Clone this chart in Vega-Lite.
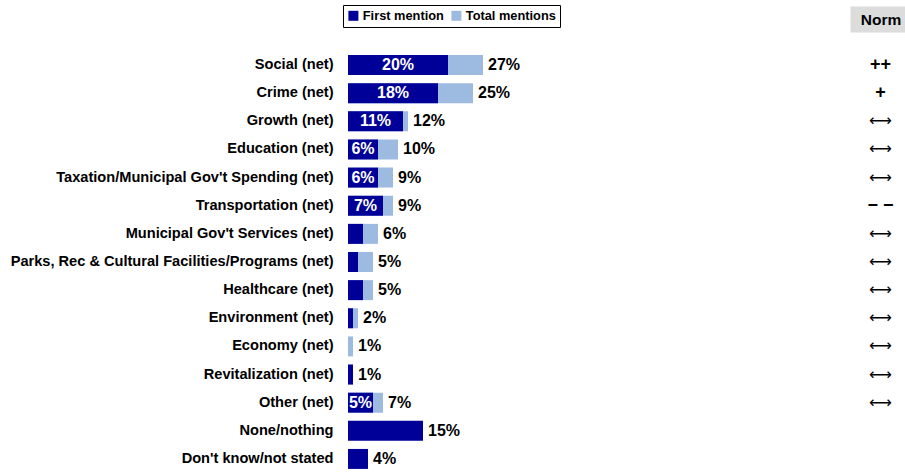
{
  "$schema": "https://vega.github.io/schema/vega-lite/v6.json",
  "autosize": {"type": "pad"},
  "padding": {"left": 10, "top": 4, "right": 0, "bottom": 0},
  "background": "white",
  "config": {
    "view": {"stroke": null},
    "font": "Liberation Sans",
    "concat": {"spacing": 2}
  },
  "data": {
    "values": [
      {"cat": "Social (net)", "first": 20, "total": 27, "norm": "++"},
      {"cat": "Crime (net)", "first": 18, "total": 25, "norm": "+"},
      {"cat": "Growth (net)", "first": 11, "total": 12, "norm": "⟷"},
      {"cat": "Education (net)", "first": 6, "total": 10, "norm": "⟷"},
      {"cat": "Taxation/Municipal Gov't Spending (net)", "first": 6, "total": 9, "norm": "⟷"},
      {"cat": "Transportation (net)", "first": 7, "total": 9, "norm": "− −"},
      {"cat": "Municipal Gov't Services (net)", "first": 3, "total": 6, "norm": "⟷"},
      {"cat": "Parks, Rec & Cultural Facilities/Programs (net)", "first": 2, "total": 5, "norm": "⟷"},
      {"cat": "Healthcare (net)", "first": 3, "total": 5, "norm": "⟷"},
      {"cat": "Environment (net)", "first": 1, "total": 2, "norm": "⟷"},
      {"cat": "Economy (net)", "first": 0, "total": 1, "norm": "⟷"},
      {"cat": "Revitalization (net)", "first": 1, "total": 1, "norm": "⟷"},
      {"cat": "Other (net)", "first": 5, "total": 7, "norm": "⟷"},
      {"cat": "None/nothing", "first": 15, "total": null, "norm": null},
      {"cat": "Don't know/not stated", "first": 4, "total": null, "norm": null}
    ]
  },
  "hconcat": [
    {
      "width": 500,
      "height": 422,
      "encoding": {
        "y": {
          "field": "cat",
          "type": "nominal",
          "sort": null,
          "scale": {"paddingInner": 0.29, "paddingOuter": 0.145},
          "axis": {
            "title": null,
            "domain": false,
            "ticks": false,
            "tickSize": 0,
            "labelPadding": 15,
            "labelFont": "Liberation Sans",
            "labelFontWeight": "bold",
            "labelFontSize": 14.6,
            "labelColor": "black",
            "labelLimit": 400
          }
        }
      },
      "layer": [
        {
          "transform": [
            {"filter": "datum.total != null"},
            {"calculate": "'Total mentions'", "as": "series"}
          ],
          "mark": {"type": "bar"},
          "encoding": {
            "x": {
              "field": "total",
              "type": "quantitative",
              "scale": {"domain": [0, 100]},
              "axis": null
            },
            "color": {
              "field": "series",
              "type": "nominal",
              "scale": {
                "domain": ["First mention", "Total mentions"],
                "range": ["#000099", "#9DBAE0"]
              },
              "legend": {
                "title": null,
                "orient": "none",
                "direction": "horizontal",
                "legendX": -5,
                "legendY": -46,
                "symbolType": "square",
                "symbolSize": 100,
                "symbolStrokeWidth": 0,
                "labelFont": "Liberation Sans",
                "labelFontWeight": "bold",
                "labelFontSize": 12.8,
                "labelColor": "black",
                "columnPadding": 6,
                "symbolOffset": 0,
                "labelOffset": 3,
                "strokeColor": "black",
                "padding": 4
              }
            }
          }
        },
        {
          "transform": [{"calculate": "'First mention'", "as": "series"}],
          "mark": {"type": "bar"},
          "encoding": {
            "x": {"field": "first", "type": "quantitative"},
            "color": {"field": "series", "type": "nominal"}
          }
        },
        {
          "transform": [
            {"filter": "datum.total != null && datum.first >= 5"},
            {"calculate": "format(datum.first, '.0f') + '%'", "as": "innerLabel"},
            {"calculate": "datum.first / 2", "as": "mid"}
          ],
          "mark": {
            "type": "text",
            "color": "white",
            "fontWeight": "bold",
            "fontSize": 16,
            "align": "center",
            "baseline": "middle"
          },
          "encoding": {
            "x": {"field": "mid", "type": "quantitative"},
            "text": {"field": "innerLabel", "type": "nominal"}
          }
        },
        {
          "transform": [
            {"calculate": "datum.total != null ? datum.total : datum.first", "as": "outer"},
            {"calculate": "format(datum.outer, '.0f') + '%'", "as": "outerLabel"}
          ],
          "mark": {
            "type": "text",
            "color": "black",
            "fontWeight": "bold",
            "fontSize": 16,
            "align": "left",
            "baseline": "middle",
            "dx": 5
          },
          "encoding": {
            "x": {"field": "outer", "type": "quantitative"},
            "text": {"field": "outerLabel", "type": "nominal"}
          }
        }
      ]
    },
    {
      "width": 55,
      "height": 422,
      "transform": [
        {"filter": "datum.norm != null"},
        {"calculate": "'Norm'", "as": "col"}
      ],
      "layer": [
        {
          "transform": [{"filter": "datum.norm != '⟷'"}],
          "mark": {
            "type": "text",
            "color": "black",
            "fontWeight": "bold",
            "fontSize": 18,
            "baseline": "middle",
            "dx": 3
          },
          "encoding": {
            "text": {"field": "norm", "type": "nominal"}
          }
        },
        {
          "transform": [{"filter": "datum.norm == '⟷'"}],
          "mark": {
            "type": "text",
            "color": "black",
            "font": "DejaVu Sans",
            "fontSize": 16,
            "baseline": "middle",
            "dx": 3
          },
          "encoding": {
            "text": {"field": "norm", "type": "nominal"}
          }
        }
      ],
      "encoding": {
        "x": {
          "field": "col",
          "type": "nominal",
          "axis": {
            "orient": "top",
            "title": "Norm",
            "titleFontWeight": "bold",
            "titleFontSize": 15.5,
            "titleColor": "black",
            "titleBaseline": "middle",
            "titleAnchor": "middle",
            "titleX": 30.5,
            "titleY": 0,
            "labels": false,
            "ticks": false,
            "tickSize": 0,
            "domain": true,
            "domainColor": "#DCDCDC",
            "domainWidth": 26,
            "offset": 32
          }
        },
        "y": {
          "field": "cat",
          "type": "nominal",
          "sort": null,
          "scale": {
            "domain": ["Social (net)", "Crime (net)", "Growth (net)", "Education (net)", "Taxation/Municipal Gov't Spending (net)", "Transportation (net)", "Municipal Gov't Services (net)", "Parks, Rec & Cultural Facilities/Programs (net)", "Healthcare (net)", "Environment (net)", "Economy (net)", "Revitalization (net)", "Other (net)", "None/nothing", "Don't know/not stated"],
            "paddingInner": 0.29,
            "paddingOuter": 0.145
          },
          "axis": null
        }
      }
    }
  ]
}
